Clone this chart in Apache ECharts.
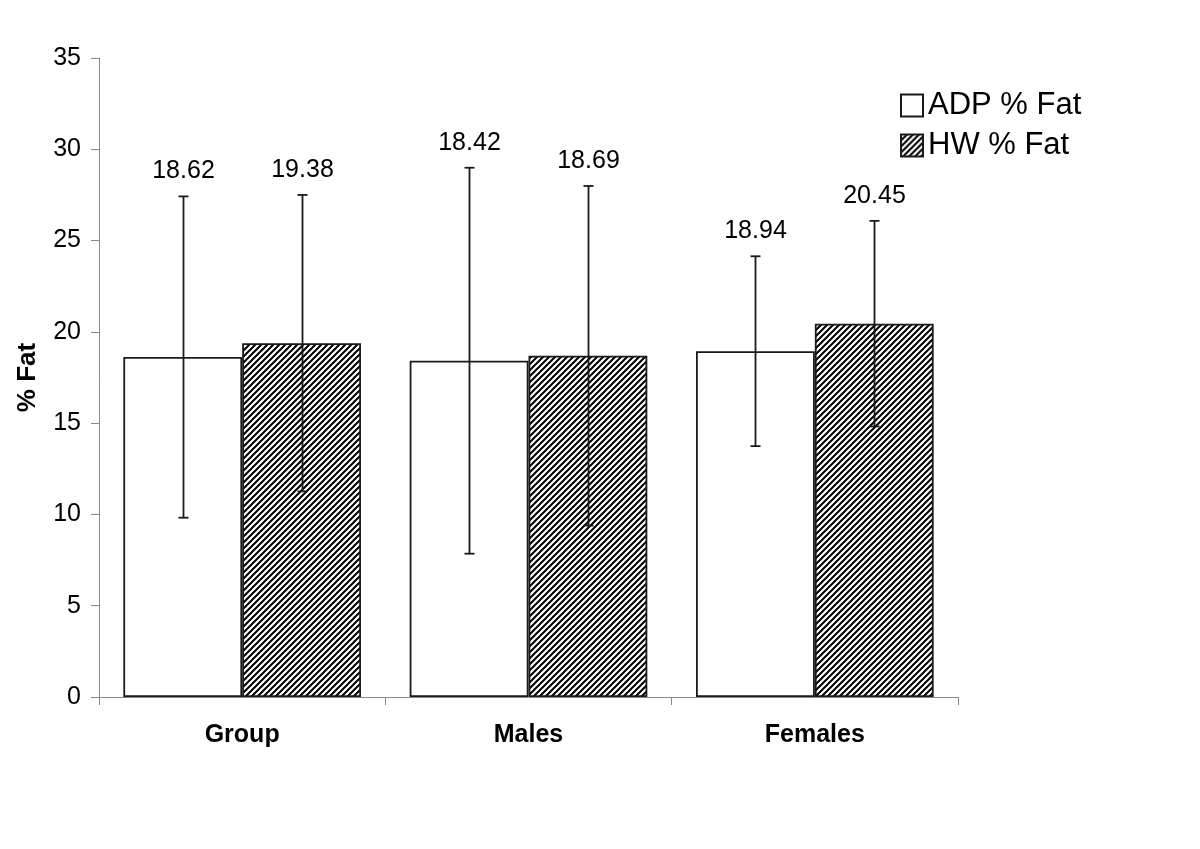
<!DOCTYPE html>
<html>
<head>
<meta charset="utf-8">
<script src="https://cdn.jsdelivr.net/npm/echarts@6/dist/echarts.min.js"></script>
<style>
html,body{margin:0;padding:0;background:#fff;}
#chart{width:1200px;height:849px;}
</style>
</head>
<body>
<div id="chart"></div>
<script>
const categories = ['Group', 'Males', 'Females'];
const seriesNames = ['ADP % Fat', 'HW % Fat'];
const adpMean = [18.62, 18.42, 18.94];
const hwMean = [19.38, 18.69, 20.45];
const adpSD = [8.8, 10.57, 5.2];
const hwSD = [8.12, 9.3, 5.63];
const yTicks = [0, 5, 10, 15, 20, 25, 30, 35];

const FONT = '"Liberation Sans", Arial, Helvetica, sans-serif';
const GAP_PCT = 17;

// hatch pattern
const pc = document.createElement('canvas');
pc.width = 6; pc.height = 6;
const g = pc.getContext('2d');
g.fillStyle = '#fff';
g.fillRect(0, 0, 6, 6);
g.strokeStyle = '#000';
g.lineWidth = 2;
g.beginPath();
g.moveTo(-1, 7); g.lineTo(7, -1);
g.moveTo(-4, 4); g.lineTo(4, -4);
g.moveTo(2, 10); g.lineTo(10, 2);
g.stroke();

const errData = [];
[adpMean, hwMean].forEach((means, s) => {
  const sds = s === 0 ? adpSD : hwSD;
  means.forEach((m, i) => errData.push([i, m, sds[i], s]));
});

const chart = echarts.init(document.getElementById('chart'), null, {renderer: 'canvas'});
chart.setOption({
  animation: false,
  backgroundColor: '#fff',
  grid: {left: 99, right: 242, top: 58, bottom: 152, containLabel: false},
  legend: {
    data: seriesNames,
    orient: 'vertical',
    left: 895,
    top: 85,
    icon: 'rect',
    itemWidth: 22,
    itemHeight: 22,
    itemGap: 9,
    textStyle: {fontFamily: FONT, fontSize: 31, color: '#000', lineHeight: 30}
  },
  xAxis: {
    type: 'category',
    data: categories,
    axisLine: {lineStyle: {color: '#888', width: 1}},
    axisTick: {show: true, length: 8, lineStyle: {color: '#888'}},
    axisLabel: {fontFamily: FONT, fontSize: 25, fontWeight: 'bold', color: '#000', margin: 26},
    splitLine: {show: false}
  },
  yAxis: {
    type: 'value',
    min: yTicks[0],
    max: yTicks[yTicks.length - 1],
    interval: 5,
    name: '% Fat',
    nameLocation: 'middle',
    nameRotate: 90,
    nameGap: 58,
    nameTextStyle: {fontFamily: FONT, fontSize: 26, fontWeight: 'bold', color: '#000'},
    axisLine: {show: true, lineStyle: {color: '#888', width: 1}},
    axisTick: {show: true, length: 8, lineStyle: {color: '#888'}},
    axisLabel: {fontFamily: FONT, fontSize: 25, color: '#000', margin: 18},
    splitLine: {show: false}
  },
  series: [
    {
      name: seriesNames[0],
      type: 'bar',
      data: adpMean,
      barGap: '0%',
      barCategoryGap: GAP_PCT + '%',
      itemStyle: {color: '#fff', borderColor: '#1a1a1a', borderWidth: 1.8}
    },
    {
      name: seriesNames[1],
      type: 'bar',
      data: hwMean,
      barGap: '0%',
      barCategoryGap: GAP_PCT + '%',
      itemStyle: {color: {image: pc, repeat: 'repeat'}, borderColor: '#1a1a1a', borderWidth: 1.8}
    },
    {
      type: 'custom',
      data: errData,
      encode: {x: 0, y: 1},
      z: 10,
      silent: true,
      renderItem: function (params, api) {
        const cat = api.value(0), m = api.value(1), sd = api.value(2), s = api.value(3);
        const band = api.size([1, 0])[0];
        const bw = band * (1 - GAP_PCT / 100) / 2;
        const c = api.coord([cat, m]);
        const x = Math.round(c[0] + (s === 0 ? -bw / 2 : bw / 2)) + 0.5;
        const top = api.coord([cat, m + sd])[1];
        const bot = api.coord([cat, m - sd])[1];
        const st = {stroke: '#1a1a1a', lineWidth: 1.8};
        const cw = 5;
        return {
          type: 'group',
          children: [
            {type: 'line', shape: {x1: x, y1: top, x2: x, y2: bot}, style: st},
            {type: 'line', shape: {x1: x - cw, y1: top, x2: x + cw, y2: top}, style: st},
            {type: 'line', shape: {x1: x - cw, y1: bot, x2: x + cw, y2: bot}, style: st},
            {type: 'text', x: x, y: top - 25,
             style: {text: m.toFixed(2), fill: '#000', font: '25px ' + FONT,
                     textAlign: 'center', textVerticalAlign: 'middle'}}
          ]
        };
      }
    }
  ]
});
</script>
</body>
</html>
